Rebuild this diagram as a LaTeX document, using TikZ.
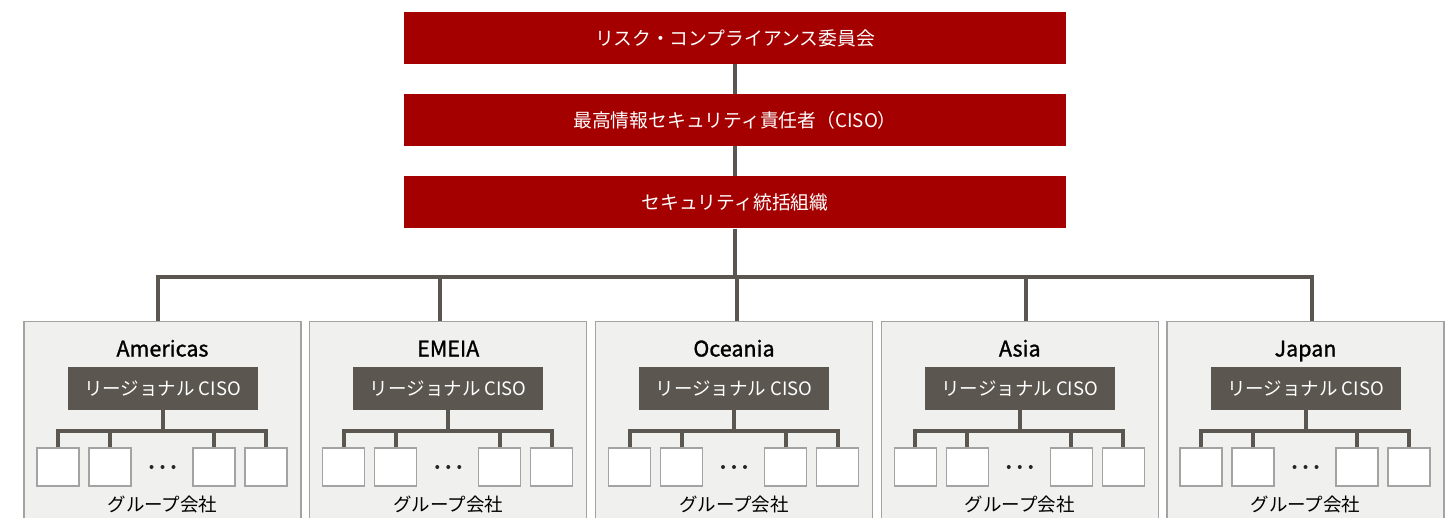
\documentclass[tikz,border=0pt]{standalone}
\usepackage{fontspec}
\setmainfont{Noto Sans CJK JP}
\newfontfamily\titlefont[FakeBold=1.2]{Noto Sans CJK JP}
\definecolor{fred}{HTML}{A40000}
\definecolor{lgray}{HTML}{5B564F}
\definecolor{pgray}{HTML}{F0F0EF}
\definecolor{bgray}{HTML}{A3A3A3}
\tikzset{
  topbox/.style={fill=fred, minimum width=662pt, minimum height=52pt, inner sep=0pt, text=white, font=\fontsize{18.8}{20}\selectfont},
  regbox/.style={fill=pgray, draw=bgray, line width=1.2pt, minimum width=277pt, minimum height=215pt, anchor=north, inner sep=0pt},
  cisobox/.style={fill=lgray, text=white, minimum width=190pt, minimum height=43pt, inner sep=0pt, font=\fontsize{18.5}{20}\selectfont},
  cobox/.style={fill=white, draw=bgray, line width=1.2pt, minimum width=42pt, minimum height=38pt, inner sep=0pt},
  conn/.style={draw=lgray, line width=4pt},
  rtitle/.style={font=\titlefont\fontsize{21.5}{24}\selectfont, inner sep=0pt, anchor=base},
  lbl/.style={font=\fontsize{18.5}{20}\selectfont, inner sep=0pt},
}
\begin{document}
\begin{tikzpicture}[x=1pt,y=-1pt]
\useasboundingbox (0,0) rectangle (1455,518);
\clip (0,0) rectangle (1455,518);
\node[topbox] (risk) at (735,38) {リスク・コンプライアンス委員会};
\node[topbox] (ciso) at (735,120) {最高情報セキュリティ責任者（CISO）};
\node[topbox] (sec) at (735,202.5) {セキュリティ統括組織};
\draw[conn] (risk.south) -- (ciso.north);
\draw[conn] (ciso.south) -- (sec.north);
\foreach \i/\name/\dx in {1/Americas/158, 2/EMEIA/440, 3/Oceania/737, 4/Asia/1026, 5/Japan/1312}{
  \pgfmathsetmacro{\L}{24+(\i-1)*285.75}
  \pgfmathsetmacro{\C}{\L+138.5}
  \coordinate (d\i) at (\dx,277);
  \node[regbox] (reg\i) at (\C,321) {};
  \node[rtitle] (t\i) at (\C,356.5) {\name};
  \node[cisobox] (c\i) at (\C,388.5) {リージョナル CISO};
  \node[cobox] (ga\i) at (\L+34,467) {};
  \node[cobox] (gb\i) at (\L+86,467) {};
  \node[cobox] (gc\i) at (\L+190,467) {};
  \node[cobox] (gd\i) at (\L+242,467) {};
  \foreach \k in {-1,0,1}{\fill[black!85] (\C+\k*11,467) circle (2pt);}
  \node[lbl] (l\i) at (\C,504) {グループ会社};
  \coordinate (h\i) at (\C,431);
  \draw[conn] (c\i.south) -- (h\i);
  \draw[conn] (ga\i.north) -- (ga\i.north |- h\i) -- (gd\i.north |- h\i) -- (gd\i.north);
  \draw[conn] (gb\i.north) -- (gb\i.north |- h\i);
  \draw[conn] (gc\i.north) -- (gc\i.north |- h\i);
}
\draw[conn] (sec.south) -- (sec.south |- d1);
\draw[conn] (d1 |- reg1.north) -- (d1) -- (d5) -- (d5 |- reg5.north);
\draw[conn] (d2) -- (d2 |- reg2.north);
\draw[conn] (d3) -- (d3 |- reg3.north);
\draw[conn] (d4) -- (d4 |- reg4.north);
\end{tikzpicture}
\end{document}
